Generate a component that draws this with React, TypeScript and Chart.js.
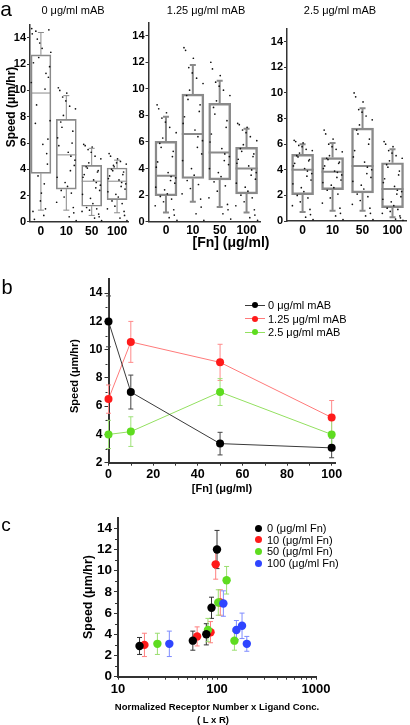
import React, { useEffect, useRef } from "react";
import { Chart, registerables } from "chart.js";

Chart.register(...registerables);

const W = 410;
const H = 725;
const FONT = "'Liberation Sans', Arial, Helvetica, sans-serif";
const AXIS = "#333";
const BOX = "#8a8a8a";

// ---------------- Panel a : box plots ----------------
const fnCats = ["0", "10", "50", "100"];
const mabTitles = ["0 μg/ml mAB", "1.25 μg/ml mAB", "2.5 μg/ml mAB"];
const yTicksA = [0, 2, 4, 6, 8, 10, 12, 14];

// 0 μg/ml mAB
const loA = [0.9, 0.9, 0.5, 0.7];
const q1A = [3.7, 2.5, 1.2, 1.7];
const medA = [9.8, 5.1, 3.1, 3.1];
const q3A = [12.7, 7.8, 4.3, 4.1];
const hiA = [14.4, 9.6, 5.6, 4.7];

// 1.25 μg/ml mAB
const loB = [0.7, 1.5, 1.1, 0.7];
const q1B = [1.95, 3.25, 3.15, 2.1];
const medB = [3.45, 6.6, 5.2, 4.0];
const q3B = [6.05, 9.6, 8.9, 5.6];
const hiB = [7.9, 11.8, 10.6, 7.0];

// 2.5 μg/ml mAB
const loC = [0.7, 0.8, 0.8, 0.3];
const q1C = [2.05, 2.45, 2.2, 1.05];
const medC = [4.0, 3.85, 4.3, 2.5];
const q3C = [5.2, 4.95, 7.25, 4.55];
const hiC = [6.0, 6.1, 8.8, 5.6];

// horizontal scatter of the individual cells inside each box (category units)
const jitter = [-0.31, 0.12, 0.38, -0.05, 0.27, -0.4, 0.02, 0.33, -0.18, 0.21, -0.27, 0.08, 0.41, -0.12, 0.17,
  -0.36, 0.29, -0.02, 0.36, -0.23, 0.05, -0.33, 0.24, -0.09, 0.14, -0.38, 0.31, -0.15, 0.19, -0.21];

const cellsA = [
  [12.1, 0.5, 7.7, 13.6, 4.4, 10.6, 2.2, 14.6, 8.9, 11.3, 0.2, 5.9, 12.9, 3.5, 10.1, 14.3, 6.3, 1.6, 11.8, 7.5, 13.2, 0.8, 5.2, 12.5, 2.9, 14.7, 11.0, 13.9, 1.0, 14.5],
  [5.8, 0.4, 8.6, 3.0, 6.9, 1.5, 9.8, 4.3, 7.2, 2.2, 10.0, 5.3, 0.1, 8.1, 3.9, 6.4, 1.1, 9.2, 4.7, 7.6, 2.7, 10.2, 6.0, 1.9, 8.8, 3.4, 0.7, 9.5, 5.0, 2.4],
  [3.6, 0.3, 4.8, 1.8, 3.9, 0.8, 5.7, 2.4, 4.1, 1.0, 5.8, 3.2, 0.1, 4.5, 2.6, 3.4, 0.6, 5.3, 2.8, 4.2, 1.4, 5.9, 3.8, 0.9, 5.0, 2.1, 0.4, 5.5, 3.0, 1.1],
  [3.5, 0.3, 4.4, 2.1, 3.8, 1.0, 4.8, 2.5, 3.9, 1.4, 5.0, 3.2, 0.1, 4.2, 2.7, 3.3, 0.8, 4.5, 2.9, 4.0, 1.9, 5.2, 3.6, 1.2, 4.6, 2.3, 0.5, 4.3, 3.0, 1.6],
];
const cellsB = [
  [4.5, 0.3, 6.7, 2.4, 5.3, 1.2, 8.2, 2.9, 5.6, 1.7, 8.5, 3.7, 0.1, 6.3, 3.1, 4.1, 0.9, 7.5, 3.3, 5.9, 2.1, 8.8, 4.9, 1.5, 7.1, 2.6, 0.5, 7.8, 3.4, 1.9],
  [7.9, 0.6, 10.4, 4.0, 8.8, 2.1, 12.3, 5.1, 9.2, 2.8, 12.9, 6.9, 0.1, 9.9, 5.6, 7.4, 1.7, 11.2, 6.1, 9.5, 3.5, 13.1, 8.3, 2.5, 10.8, 4.6, 1.1, 11.6, 6.4, 3.1],
  [6.6, 0.6, 9.5, 3.7, 7.6, 1.8, 11.0, 4.3, 8.1, 2.7, 11.5, 5.5, 0.2, 9.1, 4.6, 6.0, 1.3, 10.2, 4.9, 8.6, 3.4, 12.0, 7.1, 2.3, 9.9, 4.0, 0.9, 10.5, 5.1, 3.0],
  [4.7, 0.3, 6.1, 2.6, 5.1, 1.2, 7.1, 3.2, 5.3, 1.8, 7.3, 4.2, 0.1, 5.8, 3.5, 4.4, 0.9, 6.7, 3.7, 5.5, 2.3, 7.4, 4.9, 1.5, 6.4, 2.9, 0.5, 6.9, 3.9, 2.0],
];
const cellsC = [
  [4.5, 0.3, 5.5, 2.6, 4.8, 1.2, 6.1, 3.2, 5.0, 1.8, 6.2, 4.1, 0.1, 5.3, 3.5, 4.3, 0.9, 5.8, 3.7, 5.1, 2.3, 6.3, 4.7, 1.5, 5.6, 2.9, 0.5, 5.9, 3.9, 2.0],
  [4.3, 0.4, 5.4, 2.8, 4.6, 1.4, 6.4, 3.2, 4.8, 2.1, 6.8, 3.9, 0.1, 5.1, 3.4, 4.1, 1.0, 5.8, 3.6, 4.9, 2.6, 7.1, 4.5, 1.8, 5.6, 3.0, 0.6, 6.0, 3.8, 2.4],
  [5.5, 0.4, 7.9, 2.8, 6.4, 1.3, 9.3, 3.4, 6.8, 1.9, 9.7, 4.6, 0.1, 7.5, 3.7, 5.0, 1.0, 8.5, 4.0, 7.1, 2.5, 10.0, 6.0, 1.6, 8.2, 3.1, 0.6, 8.7, 4.2, 2.1],
  [3.3, 0.15, 4.9, 1.5, 3.9, 0.6, 5.8, 1.9, 4.2, 0.9, 6.0, 2.7, 0.05, 4.7, 2.1, 3.0, 0.4, 5.3, 2.3, 4.4, 1.2, 6.2, 3.6, 0.75, 5.1, 1.7, 0.25, 5.5, 2.4, 1.0],
];

// ---------------- Panel b : mean speed vs [Fn] ----------------
const fnB = [0, 10, 50, 100];
const seriesBLabels = ["0 μg/ml mAB", "1.25 μg/ml mAB", "2.5 μg/ml mAB"];
const speedB0 = [12.0, 7.0, 3.35, 3.05];
const errB0 = [1.8, 1.2, 0.8, 0.7];
const speedB125 = [6.5, 10.55, 9.1, 5.2];
const errB125 = [1.0, 1.45, 1.28, 1.2];
const speedB25 = [4.0, 4.2, 7.0, 4.0];
const errB25 = [1.0, 1.05, 0.95, 1.0];
const yTicksB = [2, 4, 6, 8, 10, 12, 14];
const yMinorB = [3, 5, 7, 9, 11, 13];
const xTicksB = [0, 20, 40, 60, 80, 100];
const xMinorB = [10, 30, 50, 70, 90];

// ---------------- Panel c : speed vs L x R ----------------
const seriesCLabels = ["0 (μg/ml Fn)", "10 (μg/ml Fn)", "50 (μg/ml Fn)", "100 (μg/ml Fn)"];
const lrC0 = [16.5, 57, 78, 88, 100];
const speedC0 = [2.9, 3.4, 4.0, 6.5, 12.0];
const errC0 = [0.8, 0.9, 1.0, 1.0, 1.8];
const lrC10 = [18.5, 63, 86, 97, 108];
const speedC10 = [3.0, 3.8, 4.2, 10.6, 7.0];
const errC10 = [1.1, 0.9, 1.0, 1.4, 1.2];
const lrC50 = [25, 81, 103, 125, 150];
const speedC50 = [3.1, 4.4, 7.0, 9.1, 3.4];
const errC50 = [1.0, 1.1, 1.2, 1.3, 0.9];
const lrC100 = [33, 116, 157, 179, 200];
const speedC100 = [3.1, 6.9, 4.4, 4.8, 3.1];
const errC100 = [1.2, 1.2, 0.9, 1.2, 0.7];
const yTicksC = [0, 2, 4, 6, 8, 10, 12, 14];
const yMinorC = [1, 3, 5, 7, 9, 11, 13];
const xTicksC = [10, 100, 1000];
const xMinorC = [20, 30, 40, 50, 60, 70, 80, 90, 200, 300, 400, 500, 600, 700, 800, 900];

const BLACK = "#000000";
const RED = "#ff1a1a";
const GREEN = "#5edc1f";
const BLUE = "#2f45ff";

// ---------------- plugins ----------------
function boxExtras(lo: number[], q1: number[], med: number[], q3: number[], hi: number[], halfBox: number, lw: number) {
  return {
    id: "boxExtras",
    beforeDatasetsDraw(chart: any) {
      const { ctx } = chart;
      const x = chart.scales.x;
      const y = chart.scales.y;
      ctx.save();
      ctx.strokeStyle = BOX;
      ctx.lineWidth = lw;
      ctx.beginPath();
      for (let i = 0; i < lo.length; i++) {
        const px = x.getPixelForValue(i);
        const yLo = y.getPixelForValue(lo[i]);
        const yQ1 = y.getPixelForValue(q1[i]);
        const yQ3 = y.getPixelForValue(q3[i]);
        const yHi = y.getPixelForValue(hi[i]);
        const yMed = y.getPixelForValue(med[i]);
        ctx.moveTo(px, yQ1);
        ctx.lineTo(px, yLo);
        ctx.moveTo(px - 3, yLo);
        ctx.lineTo(px + 3, yLo);
        ctx.moveTo(px, yQ3);
        ctx.lineTo(px, yHi);
        ctx.moveTo(px - 3, yHi);
        ctx.lineTo(px + 3, yHi);
        ctx.moveTo(px - halfBox, yMed);
        ctx.lineTo(px + halfBox, yMed);
      }
      ctx.stroke();
      ctx.restore();
    },
  };
}

const errorBars = {
  id: "errorBars",
  beforeDatasetsDraw(chart: any) {
    const { ctx } = chart;
    const x = chart.scales.x;
    const y = chart.scales.y;
    chart.data.datasets.forEach((ds: any) => {
      if (!ds.errors) return;
      ctx.save();
      ctx.strokeStyle = ds.errorColor;
      ctx.lineWidth = 1;
      ctx.beginPath();
      ds.data.forEach((p: any, i: number) => {
        const e = ds.errors[i];
        const px = x.getPixelForValue(p.x);
        const yt = y.getPixelForValue(p.y + e);
        const yb = y.getPixelForValue(p.y - e);
        ctx.moveTo(px, yt);
        ctx.lineTo(px, yb);
        ctx.moveTo(px - 2.5, yt);
        ctx.lineTo(px + 2.5, yt);
        ctx.moveTo(px - 2.5, yb);
        ctx.lineTo(px + 2.5, yb);
      });
      ctx.stroke();
      ctx.restore();
    });
  },
};

function minorTicks(xs: number[], ys: number[], len: number) {
  return {
    id: "minorTicks",
    afterDraw(chart: any) {
      const { ctx, chartArea } = chart;
      const x = chart.scales.x;
      const y = chart.scales.y;
      ctx.save();
      ctx.strokeStyle = AXIS;
      ctx.lineWidth = 1;
      ctx.beginPath();
      xs.forEach((v) => {
        const px = Math.round(x.getPixelForValue(v)) + 0.5;
        ctx.moveTo(px, chartArea.bottom + 1);
        ctx.lineTo(px, chartArea.bottom + 1 + len);
      });
      ys.forEach((v) => {
        const py = Math.round(y.getPixelForValue(v)) + 0.5;
        ctx.moveTo(chartArea.left - 1, py);
        ctx.lineTo(chartArea.left - 1 - len, py);
      });
      ctx.stroke();
      ctx.restore();
    },
  };
}

const font = (size: number, bold = true) => ({ family: FONT, size, weight: bold ? "bold" : "normal" });

function frame(L: number, T: number, R: number, B: number, yW: number, xH: number) {
  return { padding: { left: L - yW, top: T, right: W - R, bottom: H - B - xH } };
}

// ---------------- chart configs ----------------
function boxChart(
  lo: number[], q1: number[], med: number[], q3: number[], hi: number[], cells: number[][],
  f: { L: number; T: number; R: number; B: number; xmin: number; xmax: number; barW: number; jit: number; lw: number; wl: number }
) {
  const yW = 22;
  const xH = 18;
  const boxData = q1.map((v, i) => ({ x: i, y: [v, q3[i]] }));
  const dotData: { x: number; y: number }[] = [];
  cells.forEach((arr, i) => arr.forEach((v, k) => dotData.push({ x: i + jitter[k] * f.jit, y: v })));
  return {
    type: "bar",
    data: {
      datasets: [
        {
          type: "bar",
          data: boxData,
          backgroundColor: "rgba(0,0,0,0)",
          borderColor: BOX,
          borderWidth: f.lw,
          borderSkipped: false,
          barThickness: f.barW,
          grouped: false,
          order: 1,
        },
        {
          type: "scatter",
          data: dotData,
          pointRadius: 0.85,
          pointBackgroundColor: "#111",
          pointBorderWidth: 0,
          clip: false,
          order: 0,
        },
      ],
    },
    options: {
      animation: false,
      responsive: false,
      events: [],
      layout: frame(f.L, f.T, f.R, f.B, yW, xH),
      plugins: { legend: { display: false }, tooltip: { enabled: false } },
      scales: {
        x: {
          type: "linear",
          min: f.xmin,
          max: f.xmax,
          offset: false,
          afterFit: (s: any) => { s.height = xH; },
          afterBuildTicks: (s: any) => { s.ticks = fnCats.map((_, i) => ({ value: i })); },
          ticks: { callback: (v: any) => fnCats[v] ?? "", font: font(12), color: "#000", padding: 2, autoSkip: false, maxRotation: 0 },
          grid: { display: false, drawTicks: false, offset: false },
          border: { display: true, color: AXIS, width: 1.5 },
        },
        y: {
          type: "linear",
          min: 0,
          max: 15,
          afterFit: (s: any) => { s.width = yW; },
          afterBuildTicks: (s: any) => { s.ticks = yTicksA.map((v) => ({ value: v })); },
          ticks: { font: font(11), color: "#000", padding: 1 },
          grid: { drawOnChartArea: false, drawTicks: true, tickLength: 3, color: AXIS, lineWidth: 1 },
          border: { display: true, color: AXIS, width: 1.5 },
        },
      },
    },
    plugins: [boxExtras(lo, q1, med, q3, hi, f.barW / 2, f.wl)],
  };
}

function pts(xs: number[], ys: number[]) {
  return xs.map((x, i) => ({ x, y: ys[i] }));
}

function lineChart() {
  const yW = 30;
  const xH = 22;
  const mk = (label: string, ys: number[], errs: number[], color: string, lineColor: string, errColor: string) => ({
    label,
    data: pts(fnB, ys),
    errors: errs,
    errorColor: errColor,
    borderColor: lineColor,
    borderWidth: 1,
    backgroundColor: color,
    pointBackgroundColor: color,
    pointBorderColor: color,
    pointRadius: 4,
    pointBorderWidth: 0,
    showLine: true,
    clip: false,
  });
  return {
    type: "scatter",
    data: {
      datasets: [
        mk(seriesBLabels[0], speedB0, errB0, BLACK, "#3a3a3a", "#444"),
        mk(seriesBLabels[1], speedB125, errB125, RED, "#ff7a7a", "#ff8a8a"),
        mk(seriesBLabels[2], speedB25, errB25, GREEN, "#93e060", "#9fe27a"),
      ],
    },
    options: {
      animation: false,
      responsive: false,
      events: [],
      layout: frame(108.5, 279, 335, 462.7, yW, xH),
      plugins: { legend: { display: false }, tooltip: { enabled: false } },
      scales: {
        x: {
          type: "linear",
          min: 0,
          max: 101.5,
          afterFit: (s: any) => { s.height = xH; },
          afterBuildTicks: (s: any) => { s.ticks = xTicksB.map((v) => ({ value: v })); },
          ticks: { font: font(12.5), color: "#000", padding: 1, autoSkip: false, maxRotation: 0 },
          grid: { drawOnChartArea: false, drawTicks: true, tickLength: 3, color: AXIS, lineWidth: 1 },
          border: { display: true, color: AXIS, width: 2 },
        },
        y: {
          type: "linear",
          min: 2,
          max: 15,
          afterFit: (s: any) => { s.width = yW; },
          afterBuildTicks: (s: any) => { s.ticks = yTicksB.map((v) => ({ value: v })); },
          ticks: { font: font(12), color: "#000", padding: 2 },
          grid: { drawOnChartArea: false, drawTicks: true, tickLength: 4, color: AXIS, lineWidth: 1 },
          border: { display: true, color: AXIS, width: 2 },
        },
      },
    },
    plugins: [errorBars, minorTicks(xMinorB, yMinorB, 2)],
  };
}

function logChart() {
  const yW = 30;
  const xH = 22;
  const mk = (label: string, xs: number[], ys: number[], errs: number[], color: string, errColor: string, order: number) => ({
    label,
    data: pts(xs, ys),
    errors: errs,
    errorColor: errColor,
    backgroundColor: color,
    pointBackgroundColor: color,
    pointBorderColor: color,
    pointRadius: 4.2,
    pointBorderWidth: 0,
    showLine: false,
    clip: false,
    order,
  });
  return {
    type: "scatter",
    data: {
      datasets: [
        mk(seriesCLabels[0], lrC0, speedC0, errC0, BLACK, "#333", 0),
        mk(seriesCLabels[1], lrC10, speedC10, errC10, RED, "#ff7f7f", 3),
        mk(seriesCLabels[2], lrC50, speedC50, errC50, GREEN, "#9ade6e", 2),
        mk(seriesCLabels[3], lrC100, speedC100, errC100, BLUE, "#7f8cff", 1),
      ],
    },
    options: {
      animation: false,
      responsive: false,
      events: [],
      layout: frame(118, 517.7, 316, 676.7, yW, xH),
      plugins: { legend: { display: false }, tooltip: { enabled: false } },
      scales: {
        x: {
          type: "logarithmic",
          min: 10,
          max: 1000,
          afterFit: (s: any) => { s.height = xH; },
          afterBuildTicks: (s: any) => { s.ticks = xTicksC.map((v) => ({ value: v })); },
          ticks: { callback: (v: any) => String(v), font: font(13), color: "#000", padding: 2, autoSkip: false, maxRotation: 0 },
          grid: { drawOnChartArea: false, drawTicks: true, tickLength: 3, color: AXIS, lineWidth: 1 },
          border: { display: true, color: AXIS, width: 2 },
        },
        y: {
          type: "linear",
          min: 0,
          max: 15,
          afterFit: (s: any) => { s.width = yW; },
          afterBuildTicks: (s: any) => { s.ticks = yTicksC.map((v) => ({ value: v })); },
          ticks: { font: font(13.5), color: "#000", padding: 2 },
          grid: { drawOnChartArea: false, drawTicks: true, tickLength: 4, color: AXIS, lineWidth: 1 },
          border: { display: true, color: AXIS, width: 2 },
        },
      },
    },
    plugins: [errorBars, minorTicks(xMinorC, yMinorC, 2)],
  };
}

// ---------------- React ----------------
function ChartCanvas({ make }: { make: () => any }) {
  const ref = useRef<HTMLCanvasElement>(null);
  useEffect(() => {
    const chart = new Chart(ref.current as HTMLCanvasElement, make());
    return () => chart.destroy();
  }, []);
  return (
    <canvas
      ref={ref}
      width={W}
      height={H}
      style={{ position: "absolute", left: 0, top: 0, width: W, height: H }}
    />
  );
}

function Txt(props: { x: number; y: number; size: number; bold?: boolean; rotate?: boolean; left?: boolean; children: any }) {
  const { x, y, size, bold, rotate, left, children } = props;
  return (
    <div
      style={{
        position: "absolute",
        left: x,
        top: y,
        fontSize: size,
        fontWeight: bold ? "bold" : "normal",
        lineHeight: 1,
        whiteSpace: "nowrap",
        color: "#000",
        transform: `translate(${left ? "0" : "-50%"}, -50%)${rotate ? " rotate(-90deg)" : ""}`,
      }}
    >
      {children}
    </div>
  );
}

const legendBColors = [
  { dot: BLACK, line: "#3a3a3a" },
  { dot: RED, line: "#ff7a7a" },
  { dot: GREEN, line: "#93e060" },
];
const legendBY = [305, 318.5, 332];
const legendCColors = [BLACK, RED, GREEN, BLUE];
const legendCY = [528, 539.5, 551, 563];

export default function App() {
  return (
    <div
      style={{
        position: "fixed",
        left: 0,
        top: 0,
        width: W,
        height: H,
        background: "#fff",
        overflow: "hidden",
        fontFamily: FONT,
      }}
    >
      <ChartCanvas make={() => boxChart(loA, q1A, medA, q3A, hiA, cellsA, { L: 30, T: 24.6, R: 128.5, B: 222, xmin: -0.43, xmax: 3.45, barW: 20, jit: 0.95, lw: 1, wl: 1 })} />
      <ChartCanvas make={() => boxChart(loB, q1B, medB, q3B, hiB, cellsB, { L: 148.5, T: 22.4, R: 260, B: 221.7, xmin: -0.65, xmax: 3.5, barW: 22, jit: 1.0, lw: 1.8, wl: 2 })} />
      <ChartCanvas make={() => boxChart(loC, q1C, medC, q3C, hiC, cellsC, { L: 287, T: 28.9, R: 410, B: 221, xmin: -0.52, xmax: 3.45, barW: 22, jit: 0.85, lw: 1.8, wl: 2 })} />
      <ChartCanvas make={lineChart} />
      <ChartCanvas make={logChart} />

      {/* panel a text */}
      <Txt x={6} y={7.5} size={21}>a</Txt>
      <Txt x={73} y={9.5} size={11}>{mabTitles[0]}</Txt>
      <Txt x={206} y={9.5} size={11}>{mabTitles[1]}</Txt>
      <Txt x={340} y={9.5} size={11}>{mabTitles[2]}</Txt>
      <Txt x={11} y={107} size={12} bold rotate>Speed (μm/hr)</Txt>
      <Txt x={231} y={242} size={14} bold>[Fn] (μg/ml)</Txt>

      {/* panel b text */}
      <Txt x={7} y={287} size={20}>b</Txt>
      <Txt x={74} y={376} size={11} bold rotate>Speed (μm/hr)</Txt>
      <Txt x={222} y={488} size={11} bold>[Fn] (μg/ml)</Txt>
      {seriesBLabels.map((lab, i) => (
        <React.Fragment key={lab}>
          <div style={{ position: "absolute", left: 245, top: legendBY[i] - 0.5, width: 20, height: 1, background: legendBColors[i].line }} />
          <div style={{ position: "absolute", left: 252, top: legendBY[i] - 3, width: 6, height: 6, borderRadius: "50%", background: legendBColors[i].dot }} />
          <Txt x={268} y={legendBY[i]} size={11} left>{lab}</Txt>
        </React.Fragment>
      ))}

      {/* panel c text */}
      <Txt x={6} y={524} size={19}>c</Txt>
      <Txt x={88} y={597} size={12.5} bold rotate>Speed (μm/hr)</Txt>
      <Txt x={217} y={707} size={9.5} bold>Normalized Receptor Number x Ligand Conc.</Txt>
      <Txt x={213} y={720} size={9.5} bold>( L x R)</Txt>
      {seriesCLabels.map((lab, i) => (
        <React.Fragment key={lab}>
          <div style={{ position: "absolute", left: 254.5, top: legendCY[i] - 3.5, width: 7, height: 7, borderRadius: "50%", background: legendCColors[i] }} />
          <Txt x={267} y={legendCY[i]} size={11} left>{lab}</Txt>
        </React.Fragment>
      ))}
    </div>
  );
}
